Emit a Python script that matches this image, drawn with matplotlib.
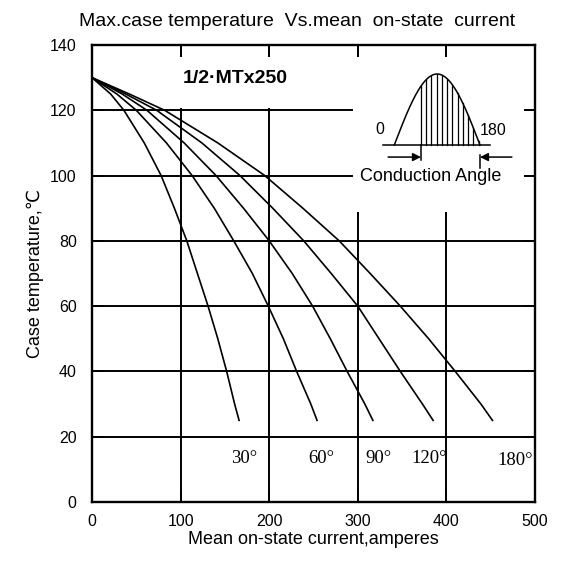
import matplotlib
matplotlib.use("Agg")
import matplotlib.pyplot as plt
from matplotlib.patches import Rectangle
import numpy as np

plt.rcParams['font.family'] = ['Liberation Sans', 'DejaVu Sans']

# case temperature points (deg C) where each curve was read
temps = [130, 125, 120, 110, 100, 90, 80, 70, 60, 50, 40, 30, 25]

# mean on-state current (A) at those temperatures, per conduction angle
amps_30 = [0, 21, 36, 59, 78, 93, 107, 119, 131, 142, 152, 161, 166]
amps_60 = [0, 28, 50, 84, 113, 138, 160, 181, 199, 216, 231, 247, 254]
amps_90 = [0, 34, 62, 104, 140, 171, 200, 226, 249, 269, 288, 308, 317]
amps_120 = [0, 38, 73, 124, 167, 204, 239, 270, 300, 324, 348, 373, 385]
amps_180 = [0, 42, 82, 142, 195, 238, 279, 314, 348, 380, 410, 439, 452]

curves = [amps_30, amps_60, amps_90, amps_120, amps_180]
angle_labels = ['30°', '60°', '90°', '120°', '180°']
label_x = [172, 259, 323, 381, 478]
label_y = [13.3, 13.3, 13.3, 13.3, 12.7]

xticks = [0, 100, 200, 300, 400, 500]
yticks = [0, 20, 40, 60, 80, 100, 120, 140]

W, H = 564, 562
fig = plt.figure(figsize=(W / 100, H / 100), dpi=100)
ax = fig.add_axes([92 / W, 1 - 502 / H, 443 / W, 457 / H])

ax.set_xlim(0, 500)
ax.set_ylim(0, 140)
ax.set_xticks(xticks)
ax.set_yticks(yticks)
ax.set_axisbelow(True)
ax.grid(True, color='black', linewidth=1.4)
ax.tick_params(direction='in', length=8.5, width=1.4, top=True, right=True,
               labelsize=11.5, pad=9)
ax.tick_params(axis='y', pad=11)
for s in ax.spines.values():
    s.set_linewidth(1.7)

# white band behind the part number label
ax.add_patch(Rectangle((0, 120.7), 487.6, 15.6, facecolor='white',
                       edgecolor='none', zorder=1))

for amps in curves:
    ax.plot(amps, temps, color='black', linewidth=1.2, zorder=3)

for lab, x, y in zip(angle_labels, label_x, label_y):
    ax.text(x, y, lab, ha='center', va='center', fontsize=13.5,
            family='Liberation Serif', zorder=3)

ax.text(162, 129.8, '1/2·MTx250', ha='center', va='center',
        fontsize=14, fontweight='bold', zorder=3)

ax.set_xlabel('Mean on-state current,amperes', fontsize=13, labelpad=1)
ax.set_ylabel('Case temperature,℃', fontsize=13, labelpad=4)
fig.text(297 / W, 1 - 21 / H, 'Max.case temperature  Vs.mean  on-state  current',
         ha='center', va='center', fontsize=14)

# inset sketch of the conduction angle
x0, x1, y0, y1 = 353, 524, 57, 212
ins = fig.add_axes([x0 / W, 1 - y1 / H, (x1 - x0) / W, (y1 - y0) / H], zorder=2)
ins.set_facecolor('white')
for s in ins.spines.values():
    s.set_visible(False)
ins.set_xticks([])
ins.set_yticks([])
# pixel -> inset units: deg = (px - 394.3) / 0.476, v = (145 - py) / 71
ins.set_xlim((x0 - 394.3) / 0.476, (x1 - 394.3) / 0.476)
ins.set_ylim((145 - y1) / 71, (145 - y0) / 71)

deg = np.linspace(0, 180, 200)
ins.plot(deg, np.sin(np.radians(deg)), color='black', linewidth=1.1)
ins.plot([-23, 201], [0, 0], color='black', linewidth=1.1)
for d in np.arange(56, 180, 11):
    ins.plot([d, d], [0, np.sin(np.radians(d))], color='black', linewidth=0.9)

ins.plot([56, 56], [0, -0.21], color='black', linewidth=1.1)
ins.plot([180, 180], [-0.14, -0.32], color='black', linewidth=1.1)
ins.annotate('', xy=(56, -0.17), xytext=(-13, -0.17),
             arrowprops=dict(arrowstyle='-|>', color='black', lw=1.1,
                             mutation_scale=12, shrinkA=0, shrinkB=0))
ins.annotate('', xy=(180, -0.17), xytext=(247, -0.17),
             arrowprops=dict(arrowstyle='-|>', color='black', lw=1.1,
                             mutation_scale=12, shrinkA=0, shrinkB=0))
ins.text(-30, 0.225, '0', ha='center', va='center', fontsize=11.5)
ins.text(179, 0.21, '180', ha='left', va='center', fontsize=11.5)
ins.text(77, -0.437, 'Conduction Angle', ha='center', va='center', fontsize=13)

fig.savefig('out.png', dpi=100)
